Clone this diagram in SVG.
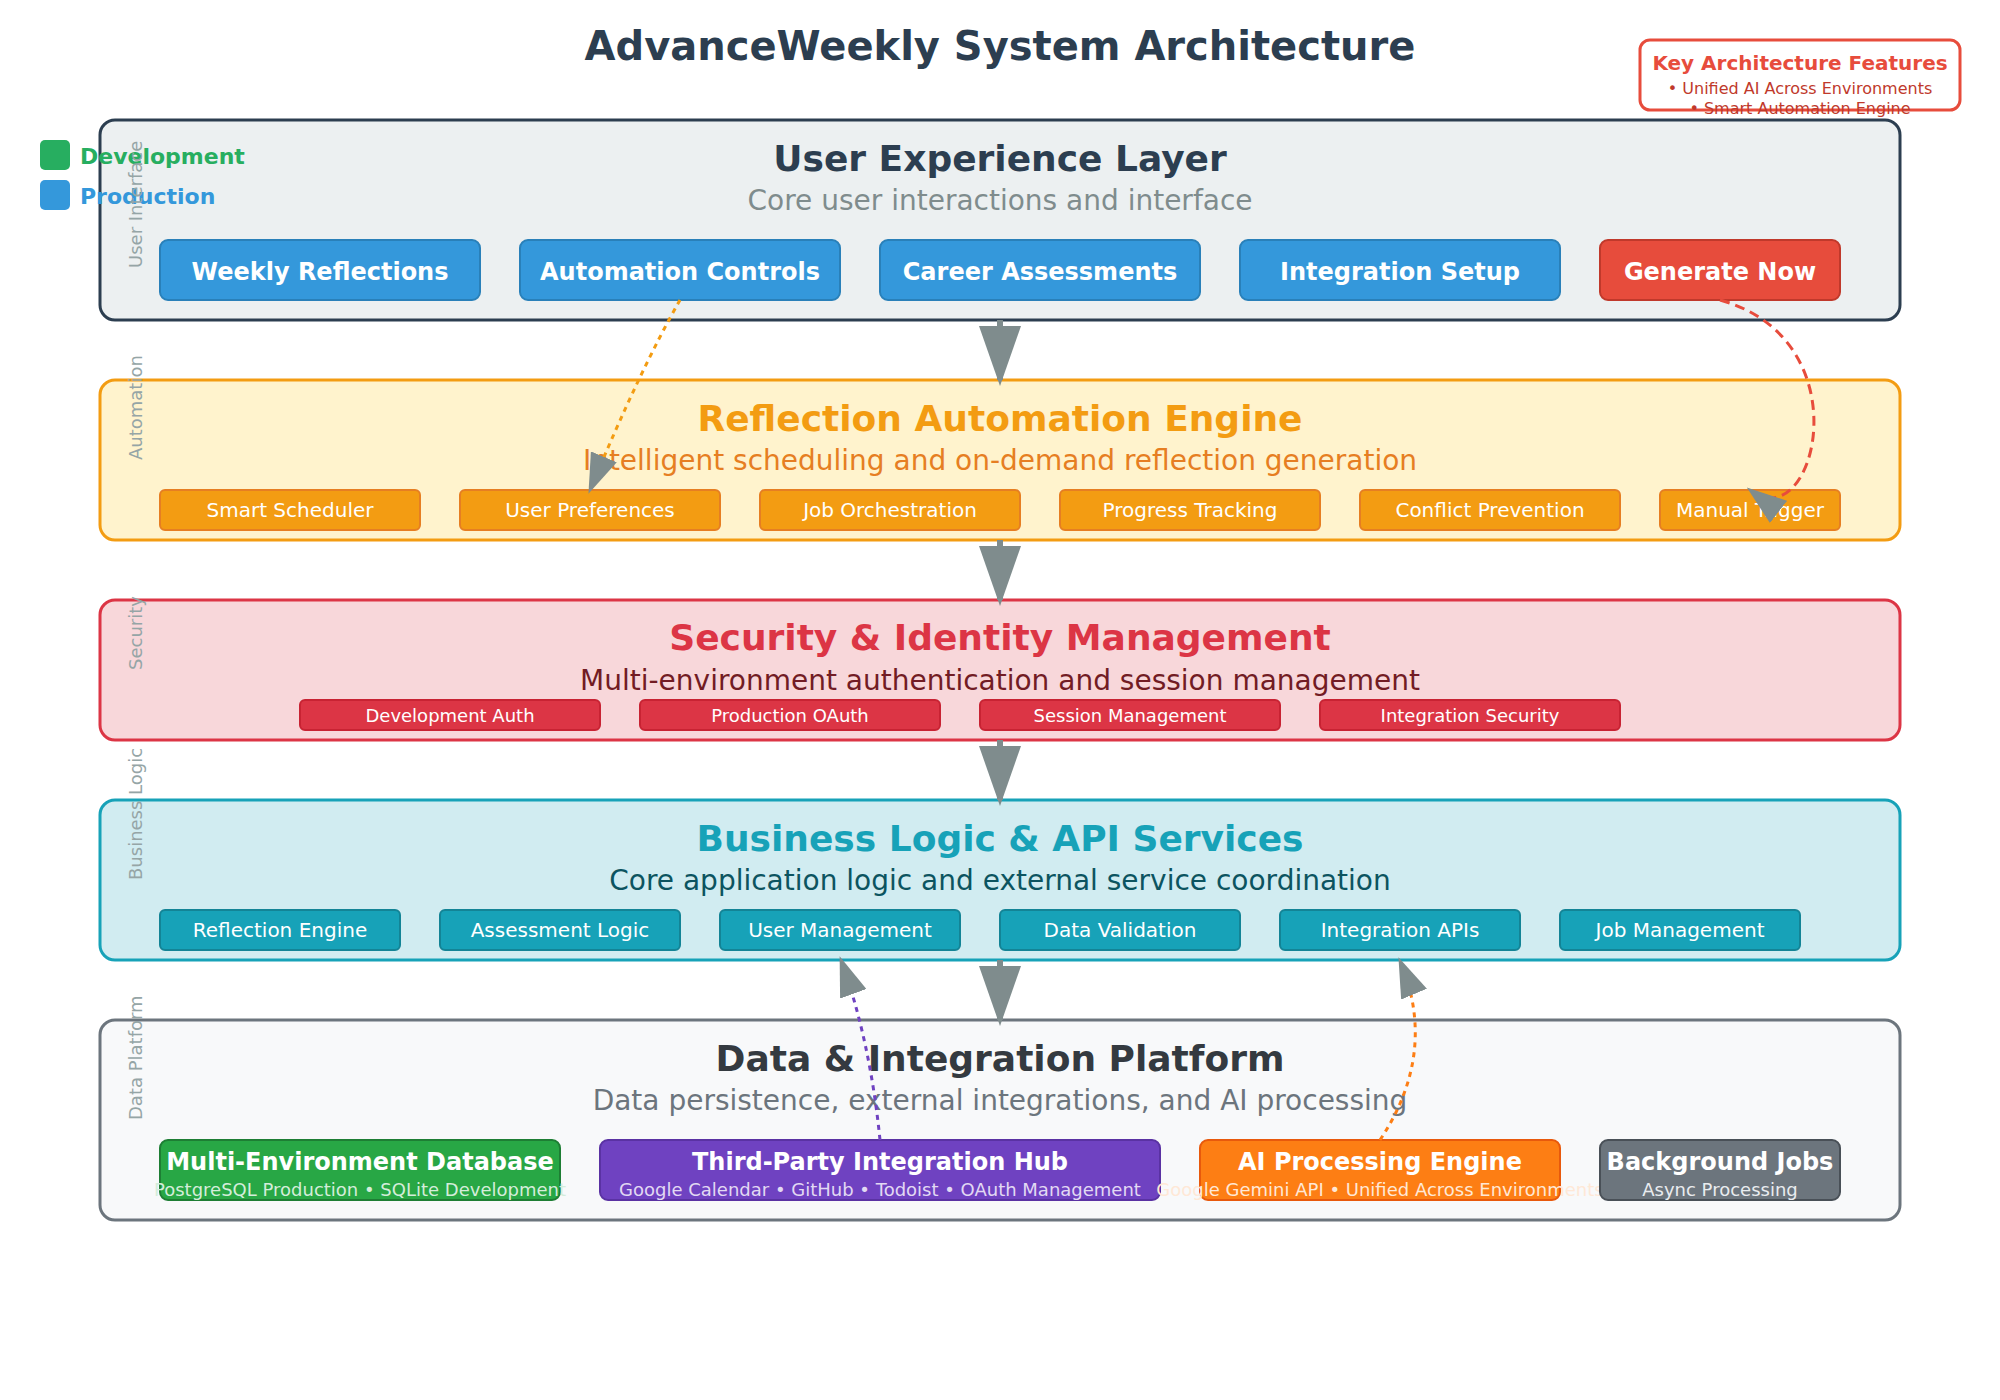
<svg xmlns="http://www.w3.org/2000/svg" width="2000" height="1400" viewBox="0 0 2000 1400">
<defs>
<style>
text{font-family:"DejaVu Sans","Liberation Sans",sans-serif}
.title{font-size:40px;font-weight:bold;fill:#2c3e50;text-anchor:middle}
.lt{font-size:36px;font-weight:bold;text-anchor:middle}
.ls{font-size:28px;text-anchor:middle}
.side{font-size:18px;fill:#95a5a6}
.btn{font-size:24px;font-weight:bold;fill:#fff;text-anchor:middle}
.i20{font-size:20px;fill:#fff;text-anchor:middle}
.i18{font-size:18px;fill:#fff;text-anchor:middle}
.dt{font-size:24px;font-weight:bold;fill:#fff;text-anchor:middle}
.ds{font-size:18px;text-anchor:middle}
.leg{font-size:22px;font-weight:bold}
.flow{stroke:#7f8c8d;stroke-width:6;fill:none;marker-end:url(#arrow)}
.dash{fill:none;stroke-width:3;marker-end:url(#arrowS)}
.ub{fill:#3498db;stroke:#2980b9;stroke-width:2}
.ab{fill:#f39c12;stroke:#e67e22;stroke-width:2}
.sb{fill:#dc3545;stroke:#c82333;stroke-width:2}
.bb{fill:#17a2b8;stroke:#138496;stroke-width:2}
</style>
<marker id="arrow" markerWidth="10" markerHeight="7" refX="9" refY="3.5" orient="auto"><polygon points="0 0, 10 3.5, 0 7" fill="#7f8c8d"/></marker>
<marker id="arrowS" viewBox="0 0 10 7" markerUnits="userSpaceOnUse" markerWidth="40" markerHeight="28" refX="9" refY="3.5" orient="auto"><polygon points="0 0, 10 3.5, 0 7" fill="#7f8c8d"/></marker>
</defs>
<rect width="2000" height="1400" fill="#ffffff"/>
<text class="title" x="1000" y="60">AdvanceWeekly System Architecture</text>

<g id="layer-ux">
<rect x="100" y="120" width="1800" height="200" rx="15" fill="#ecf0f1" stroke="#2c3e50" stroke-width="3"/>
<text class="lt" x="1000" y="171" fill="#2c3e50">User Experience Layer</text>
<text class="ls" x="1000" y="210" fill="#7f8c8d">Core user interactions and interface</text>
</g>
<g id="ux-weekly"><rect class="ub" x="160" y="240" width="320" height="60" rx="8"/><text class="btn" x="320" y="280">Weekly Reflections</text></g>
<g id="ux-automation"><rect class="ub" x="520" y="240" width="320" height="60" rx="8"/><text class="btn" x="680" y="280">Automation Controls</text></g>
<g id="ux-career"><rect class="ub" x="880" y="240" width="320" height="60" rx="8"/><text class="btn" x="1040" y="280">Career Assessments</text></g>
<g id="ux-integration"><rect class="ub" x="1240" y="240" width="320" height="60" rx="8"/><text class="btn" x="1400" y="280">Integration Setup</text></g>
<g id="ux-generate"><rect x="1600" y="240" width="240" height="60" rx="8" fill="#e74c3c" stroke="#c0392b" stroke-width="2"/><text class="btn" x="1720" y="280">Generate Now</text></g>

<g id="layer-automation">
<rect x="100" y="380" width="1800" height="160" rx="15" fill="#fff3cd" stroke="#f39c12" stroke-width="3"/>
<text class="lt" x="1000" y="431" fill="#f39c12">Reflection Automation Engine</text>
<text class="ls" x="1000" y="470" fill="#e67e22">Intelligent scheduling and on-demand reflection generation</text>
</g>
<g id="auto-scheduler"><rect class="ab" x="160" y="490" width="260" height="40" rx="5"/><text class="i20" x="290" y="517">Smart Scheduler</text></g>
<g id="auto-prefs"><rect class="ab" x="460" y="490" width="260" height="40" rx="5"/><text class="i20" x="590" y="517">User Preferences</text></g>
<g id="auto-jobs"><rect class="ab" x="760" y="490" width="260" height="40" rx="5"/><text class="i20" x="890" y="517">Job Orchestration</text></g>
<g id="auto-progress"><rect class="ab" x="1060" y="490" width="260" height="40" rx="5"/><text class="i20" x="1190" y="517">Progress Tracking</text></g>
<g id="auto-conflict"><rect class="ab" x="1360" y="490" width="260" height="40" rx="5"/><text class="i20" x="1490" y="517">Conflict Prevention</text></g>
<g id="auto-manual"><rect class="ab" x="1660" y="490" width="180" height="40" rx="5"/><text class="i20" x="1750" y="517">Manual Trigger</text></g>

<g id="layer-security">
<rect x="100" y="600" width="1800" height="140" rx="15" fill="#f8d7da" stroke="#dc3545" stroke-width="3"/>
<text class="lt" x="1000" y="650" fill="#dc3545">Security &amp; Identity Management</text>
<text class="ls" x="1000" y="690" fill="#721c24">Multi-environment authentication and session management</text>
</g>
<g id="sec-dev"><rect class="sb" x="300" y="700" width="300" height="30" rx="5"/><text class="i18" x="450" y="722">Development Auth</text></g>
<g id="sec-prod"><rect class="sb" x="640" y="700" width="300" height="30" rx="5"/><text class="i18" x="790" y="722">Production OAuth</text></g>
<g id="sec-session"><rect class="sb" x="980" y="700" width="300" height="30" rx="5"/><text class="i18" x="1130" y="722">Session Management</text></g>
<g id="sec-integration"><rect class="sb" x="1320" y="700" width="300" height="30" rx="5"/><text class="i18" x="1470" y="722">Integration Security</text></g>

<g id="layer-business">
<rect x="100" y="800" width="1800" height="160" rx="15" fill="#d1ecf1" stroke="#17a2b8" stroke-width="3"/>
<text class="lt" x="1000" y="851" fill="#17a2b8">Business Logic &amp; API Services</text>
<text class="ls" x="1000" y="890" fill="#0c5460">Core application logic and external service coordination</text>
</g>
<g id="biz-reflection"><rect class="bb" x="160" y="910" width="240" height="40" rx="5"/><text class="i20" x="280" y="937">Reflection Engine</text></g>
<g id="biz-assessment"><rect class="bb" x="440" y="910" width="240" height="40" rx="5"/><text class="i20" x="560" y="937">Assessment Logic</text></g>
<g id="biz-user"><rect class="bb" x="720" y="910" width="240" height="40" rx="5"/><text class="i20" x="840" y="937">User Management</text></g>
<g id="biz-validation"><rect class="bb" x="1000" y="910" width="240" height="40" rx="5"/><text class="i20" x="1120" y="937">Data Validation</text></g>
<g id="biz-apis"><rect class="bb" x="1280" y="910" width="240" height="40" rx="5"/><text class="i20" x="1400" y="937">Integration APIs</text></g>
<g id="biz-jobs"><rect class="bb" x="1560" y="910" width="240" height="40" rx="5"/><text class="i20" x="1680" y="937">Job Management</text></g>

<g id="layer-data">
<rect x="100" y="1020" width="1800" height="200" rx="15" fill="#f8f9fa" stroke="#6c757d" stroke-width="3"/>
<text class="lt" x="1000" y="1071" fill="#343a40">Data &amp; Integration Platform</text>
<text class="ls" x="1000" y="1110" fill="#6c757d">Data persistence, external integrations, and AI processing</text>
</g>
<g id="data-db"><rect x="160" y="1140" width="400" height="60" rx="8" fill="#28a745" stroke="#1e7e34" stroke-width="2"/><text class="dt" x="360" y="1170">Multi-Environment Database</text><text class="ds" x="360" y="1196" fill="#d4edda">PostgreSQL Production • SQLite Development</text></g>
<g id="data-hub"><rect x="600" y="1140" width="560" height="60" rx="8" fill="#6f42c1" stroke="#5a32a3" stroke-width="2"/><text class="dt" x="880" y="1170">Third-Party Integration Hub</text><text class="ds" x="880" y="1196" fill="#e2d9f3">Google Calendar • GitHub • Todoist • OAuth Management</text></g>
<g id="data-ai"><rect x="1200" y="1140" width="360" height="60" rx="8" fill="#fd7e14" stroke="#e8590c" stroke-width="2"/><text class="dt" x="1380" y="1170">AI Processing Engine</text><text class="ds" x="1380" y="1196" fill="#ffe8d6">Google Gemini API • Unified Across Environments</text></g>
<g id="data-jobs"><rect x="1600" y="1140" width="240" height="60" rx="8" fill="#6c757d" stroke="#495057" stroke-width="2"/><text class="dt" x="1720" y="1170">Background Jobs</text><text class="ds" x="1720" y="1196" fill="#e9ecef">Async Processing</text></g>

<g id="legend">
<rect x="40" y="140" width="30" height="30" rx="5" fill="#27ae60"/>
<text class="leg" x="80" y="164" fill="#27ae60">Development</text>
<rect x="40" y="180" width="30" height="30" rx="5" fill="#3498db"/>
<text class="leg" x="80" y="204" fill="#3498db">Production</text>
</g>

<g id="side-labels">
<text class="side" transform="translate(142,268) rotate(-90)">User Interface</text>
<text class="side" transform="translate(142,460) rotate(-90)">Automation</text>
<text class="side" transform="translate(142,670) rotate(-90)">Security</text>
<text class="side" transform="translate(142,880) rotate(-90)">Business Logic</text>
<text class="side" transform="translate(142,1120) rotate(-90)">Data Platform</text>
</g>

<g id="key-features">
<rect x="1640" y="40" width="320" height="70" rx="10" fill="#ffffff" stroke="#e74c3c" stroke-width="3"/>
<text x="1800" y="70" font-size="20" font-weight="bold" fill="#e74c3c" text-anchor="middle">Key Architecture Features</text>
<text x="1800" y="94" font-size="16" fill="#c0392b" text-anchor="middle">• Unified AI Across Environments</text>
<text x="1800" y="114" font-size="16" fill="#c0392b" text-anchor="middle">• Smart Automation Engine</text>
</g>

<g id="connectors">
<line class="flow" x1="1000" y1="320" x2="1000" y2="380"/>
<line class="flow" x1="1000" y1="540" x2="1000" y2="600"/>
<line class="flow" x1="1000" y1="740" x2="1000" y2="800"/>
<line class="flow" x1="1000" y1="960" x2="1000" y2="1020"/>
<path class="dash" d="M680,300 Q640,370 590,490" stroke="#f39c12" stroke-dasharray="5,5"/>
<path class="dash" d="M1720,300 C1865,340 1815,540 1750,490" stroke="#e74c3c" stroke-width="4" stroke-dasharray="10,6"/>
<path class="dash" d="M880,1140 Q870,1040 841,960" stroke="#6f42c1" stroke-dasharray="5,5"/>
<path class="dash" d="M1380,1140 C1420,1080 1425,1020 1400,961" stroke="#fd7e14" stroke-dasharray="5,5"/>
</g>
</svg>
